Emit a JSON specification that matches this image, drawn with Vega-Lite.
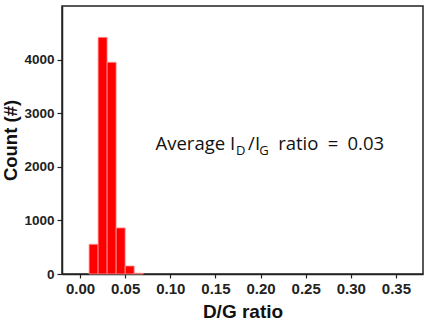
{
  "$schema": "https://vega.github.io/schema/vega-lite/v6.json",
  "width": 361,
  "height": 268,
  "autosize": {"type": "none"},
  "padding": {"left": 62, "top": 6, "right": 3, "bottom": 55},
  "background": "white",
  "config": {
    "view": {"stroke": "#222", "strokeWidth": 1.5},
    "axis": {"grid": false, "domainColor": "#222", "domainWidth": 1.5, "tickColor": "#222", "tickWidth": 1.2, "labelColor": "#222", "titleColor": "#111", "labelFont": "Liberation Sans", "titleFont": "Liberation Sans", "labelFontWeight": "bold", "titleFontWeight": "bold"}
  },
  "datasets": {
    "bars": [
      {"lo": 0.01, "hi": 0.02, "count": 555},
      {"lo": 0.02, "hi": 0.03, "count": 4415},
      {"lo": 0.03, "hi": 0.04, "count": 3950},
      {"lo": 0.04, "hi": 0.05, "count": 860},
      {"lo": 0.05, "hi": 0.06, "count": 150},
      {"lo": 0.06, "hi": 0.07, "count": 15}
    ],
    "mainText": [
      {"x": 0.0836, "y": 2307, "t": "Average I"},
      {"x": 0.1862, "y": 2307, "t": "/I"},
      {"x": 0.2195, "y": 2307, "t": "ratio\u2002=\u20020.03"}
    ],
    "subText": [
      {"x": 0.1728, "y": 2223, "t": "D"},
      {"x": 0.1985, "y": 2223, "t": "G"}
    ]
  },
  "layer": [
    {
      "data": {"name": "bars"},
      "mark": {"type": "bar", "color": "#ff0000", "stroke": "#ff9a9a", "strokeWidth": 0.8},
      "encoding": {
        "x": {"field": "lo", "type": "quantitative",
          "scale": {"domain": [-0.02, 0.38], "nice": false, "zero": false},
          "axis": {"title": "D/G ratio", "titleFontSize": 19, "titlePadding": 6, "labelFontSize": 15, "tickSize": 4, "labelPadding": 3,
            "values": [0, 0.025, 0.05, 0.075, 0.1, 0.125, 0.15, 0.175, 0.2, 0.225, 0.25, 0.275, 0.3, 0.325, 0.35, 0.375],
            "labelExpr": "round(datum.value*1000) % 50 === 0 ? format(datum.value, '.2f') : ''"}},
        "x2": {"field": "hi"},
        "y": {"field": "count", "type": "quantitative",
          "scale": {"domain": [0, 5000], "nice": false},
          "axis": {"title": "Count (#)", "titleFontSize": 18.5, "titlePadding": 3, "labelFontSize": 13.5, "labelPadding": 3,
            "tickSize": {"condition": {"test": "datum.value % 1000 === 0", "value": 5}, "value": 3},
            "values": [0, 500, 1000, 1500, 2000, 2500, 3000, 3500, 4000, 4500],
            "labelExpr": "datum.value % 1000 === 0 ? datum.label : ''",
            "format": "d"}},
        "y2": {"datum": 0}
      }
    },
    {
      "data": {"name": "mainText"},
      "mark": {"type": "text", "align": "left", "baseline": "alphabetic", "font": "Open Sans", "fontSize": 18.5, "color": "#111"},
      "encoding": {
        "x": {"field": "x", "type": "quantitative"},
        "y": {"field": "y", "type": "quantitative"},
        "text": {"field": "t"}
      }
    },
    {
      "data": {"name": "subText"},
      "mark": {"type": "text", "align": "left", "baseline": "alphabetic", "font": "Open Sans", "fontSize": 13, "color": "#111"},
      "encoding": {
        "x": {"field": "x", "type": "quantitative"},
        "y": {"field": "y", "type": "quantitative"},
        "text": {"field": "t"}
      }
    }
  ]
}
